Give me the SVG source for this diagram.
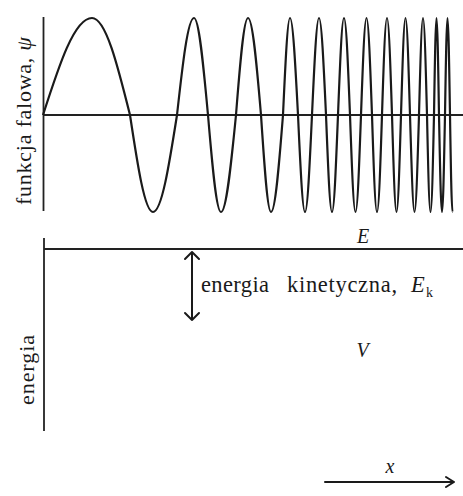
<svg xmlns="http://www.w3.org/2000/svg" width="463" height="496" viewBox="0 0 463 496">
  <style>
    .axis { stroke: #222; stroke-width: 1.8; fill: none; }
    .wave { stroke: #1a1a1a; stroke-width: 2.2; fill: none; stroke-linejoin: round; }
    .lbl { font-family: "Liberation Serif", "Times New Roman", serif; fill: #1a1a1a; }
    .it { font-style: italic; }
    .arr { stroke: #1a1a1a; stroke-width: 2; fill: none; stroke-linecap: round; stroke-linejoin: round; }
  </style>
  <rect width="463" height="496" fill="#ffffff"/>

  <g id="wave-panel">
    <line class="axis" x1="43.5" y1="17" x2="43.5" y2="211"/>
    <line class="axis" x1="43" y1="115" x2="463" y2="115"/>
    <path class="wave" d="M43,115 C59,65.3 74.3,18 92,18 C105.8,18 117.6,65.3 130,115
      C137.5,164.7 144.7,212 153,212 C161.7,212 169.2,164.7 177,115
      C182.5,65.3 187.8,18 194,18 C199.1,18 203.4,65.3 208,115
      C212.2,164.7 216.3,212 221,212 C226.4,212 231.1,164.7 236,115
      C239.9,65.3 243.7,18 248,18 C252.7,18 256.8,65.3 261,115
      C264.3,164.7 267.4,212 271,212 C275.3,212 279.1,164.7 283,115
      C285.3,65.3 287.5,18 290,18 C292.9,18 295.4,65.3 298,115
      C300.3,164.7 302.5,212 305,212 C307.5,212 309.7,164.7 312,115
      C314.3,65.3 316.5,18 319,18 C321.5,18 323.7,65.3 326,115
      C328,164.7 329.8,212 332,212 C334.2,212 336,164.7 338,115
      C340,65.3 341.8,18 344,18 C346.2,18 348,65.3 350,115
      C351.8,164.7 353.5,212 355.5,212 C357.5,212 359.2,164.7 361,115
      C362.8,65.3 364.5,18 366.5,18 C368.5,18 370.2,65.3 372,115
      C373.6,164.7 375.2,212 377,212 C378.8,212 380.4,164.7 382,115
      C383.6,65.3 385.2,18 387,18 C388.8,18 390.4,65.3 392,115
      C393.5,164.7 394.9,212 396.5,212 C398.1,212 399.5,164.7 401,115
      C402.5,65.3 403.9,18 405.5,18 C407.1,18 408.5,65.3 410,115
      C411.5,164.7 412.9,212 414.5,212 C416.1,212 417.5,164.7 419,115
      C420.3,65.3 421.6,18 423,18 C424.4,18 425.7,65.3 427,115
      C428.1,164.7 429.2,212 430.5,212 C431.8,212 432.9,164.7 434,115
      C434.8,65.3 435.6,18 436.5,18 C437.4,18 438.2,65.3 439,115
      C440,164.7 440.9,212 442,212 C443.1,212 444,164.7 445,115
      C445.8,65.3 446.6,18 447.5,18 C448.4,18 449.2,65.3 450,115
      C450.8,164.7 451.6,212 452.5,212"/>
    <text class="lbl" font-size="22" text-anchor="middle" textLength="168" lengthAdjust="spacing" transform="translate(31,121) rotate(-90)">funkcja falowa, <tspan class="it">ψ</tspan></text>
  </g>

  <g id="energy-panel">
    <line class="axis" x1="44" y1="238" x2="44" y2="431"/>
    <line class="axis" x1="44" y1="249" x2="463" y2="249"/>
    <text class="lbl" font-size="22" text-anchor="middle" textLength="70" lengthAdjust="spacing" transform="translate(34,370) rotate(-90)">energia</text>
  </g>

  <g id="label-E">
    <text class="lbl it" font-size="20" x="363" y="243" text-anchor="middle">E</text>
  </g>

  <g id="label-Ek">
    <text class="lbl" font-size="22.5" y="292"><tspan x="201" textLength="68" lengthAdjust="spacing">energia</tspan><tspan x="287" textLength="110" lengthAdjust="spacing">kinetyczna,</tspan><tspan x="411" class="it">E</tspan><tspan x="426" y="297" font-size="14">k</tspan></text>
  </g>

  <g id="label-V">
    <text class="lbl it" font-size="20" x="362.5" y="357" text-anchor="middle">V</text>
  </g>

  <g id="label-x">
    <text class="lbl it" font-size="20" x="390" y="473" text-anchor="middle">x</text>
  </g>

  <g id="connectors">
    <path class="arr" d="M192,252 L192,320 M185,259 L192,252 L199,259 M185,313 L192,320 L199,313"/>
    <path class="arr" d="M325,482 L454,482 M446,477 L454,482 L446,487"/>
  </g>
</svg>
